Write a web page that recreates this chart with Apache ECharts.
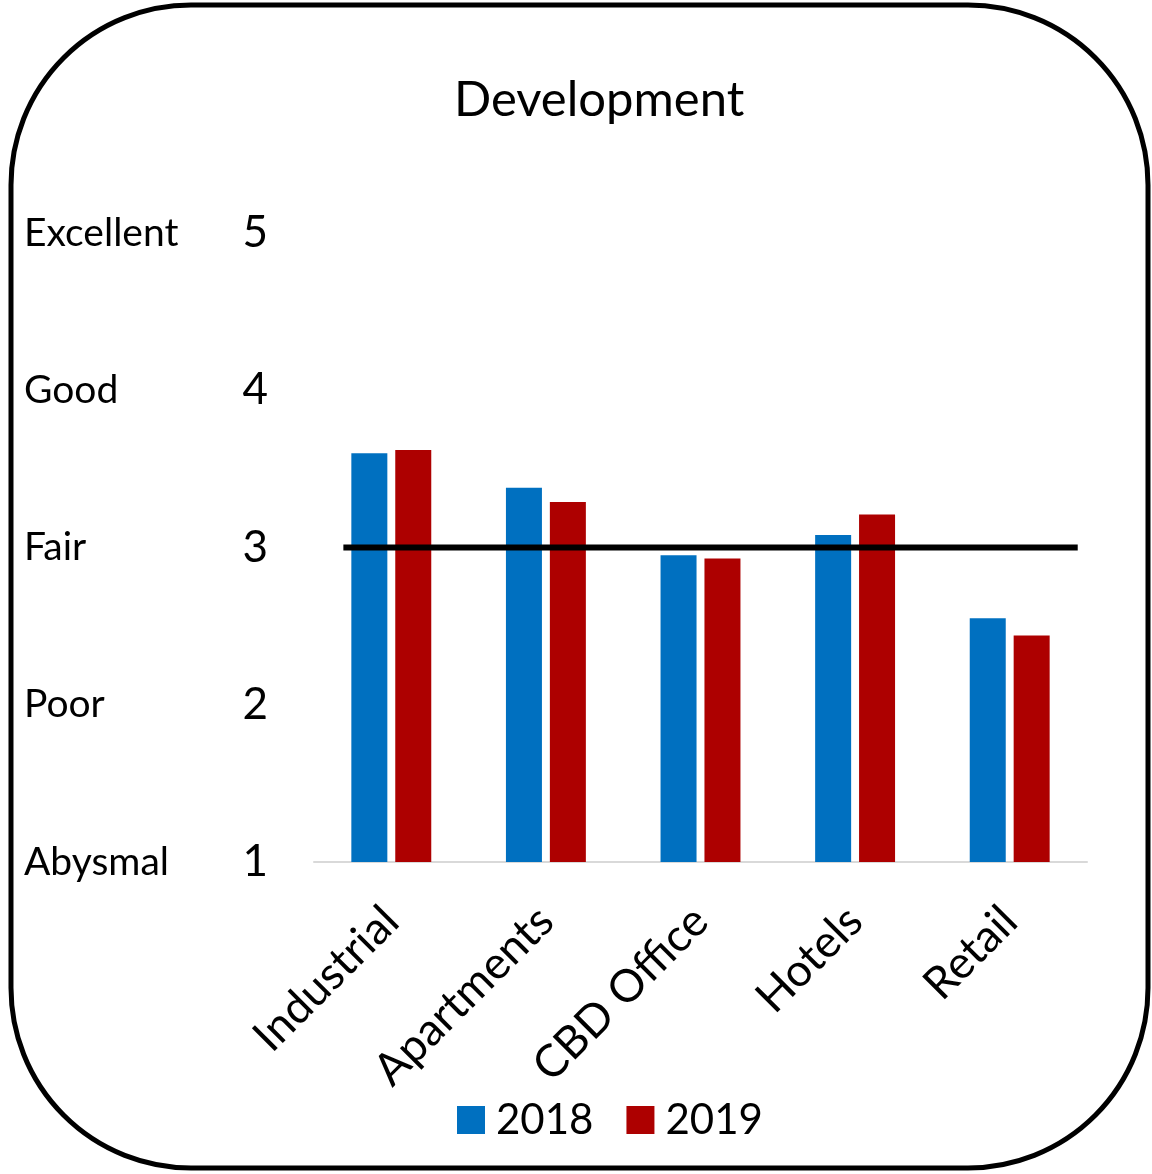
<!DOCTYPE html>
<html>
<head>
<meta charset="utf-8">
<script src="https://cdn.jsdelivr.net/npm/echarts@6/dist/echarts.min.js"></script>
<style>
html,body{margin:0;padding:0;background:#fff;}
#chart{width:1152px;height:1174px;}
</style>
</head>
<body>
<div id="chart"></div>
<script>
const categories = ['Industrial', 'Apartments', 'CBD Office', 'Hotels', 'Retail'];
const values2018 = [3.60, 3.38, 2.95, 3.08, 2.55];
const values2019 = [3.62, 3.29, 2.93, 3.21, 2.44];
const ratingLabels = {1: 'Abysmal', 2: 'Poor', 3: 'Fair', 4: 'Good', 5: 'Excellent'};
const benchmarkValue = 3;
const benchmarkSpan = [0.19, 4.94]; // in category-index units

const FONT = 'Lato';
const chart = echarts.init(document.getElementById('chart'));
chart.setOption({
  animation: false,
  backgroundColor: '#fff',
  textStyle: {fontFamily: FONT, color: '#000'},
  title: {
    text: 'Development', left: 449, top: 71,
    textStyle: {fontFamily: FONT, fontSize: 49, fontWeight: 'normal', color: '#000'}
  },
  graphic: [{
    type: 'rect', silent: true,
    shape: {x: 11, y: 5, width: 1137, height: 1163, r: 180},
    style: {fill: 'none', stroke: '#000', lineWidth: 5}
  }],
  legend: {
    data: ['2018', '2019'], bottom: 28, left: 452,
    itemWidth: 28, itemHeight: 28, itemGap: 33,
    icon: 'rect',
    textStyle: {fontFamily: FONT, fontSize: 42, color: '#000', padding: [0, 0, 0, 6]}
  },
  grid: {left: 314, right: 65, top: 233, bottom: 312, containLabel: false},
  xAxis: [{
    type: 'category', data: categories,
    axisLine: {show: true, lineStyle: {color: '#d9d9d9', width: 2}},
    axisTick: {show: false},
    axisLabel: {rotate: 45, margin: 52, fontSize: 45, fontFamily: FONT, color: '#000', interval: 0}
  }, {
    type: 'value', min: 0, max: 5, show: false
  }],
  yAxis: [{
    type: 'value', min: 1, max: 5, interval: 1,
    axisLine: {show: false}, axisTick: {show: false}, splitLine: {show: false},
    axisLabel: {fontSize: 44, fontFamily: FONT, color: '#000', margin: 46}
  }, {
    type: 'value', min: 1, max: 5, interval: 1, position: 'left',
    axisLine: {show: false}, axisTick: {show: false}, splitLine: {show: false},
    axisLabel: {
      fontSize: 39, fontFamily: FONT, color: '#000', margin: 290, align: 'left',
      formatter: v => ratingLabels[v] || ''
    }
  }],
  series: [{
    name: '2018', type: 'bar', data: values2018, barWidth: 36, barGap: '22%',
    itemStyle: {color: '#0070C0'}
  }, {
    name: '2019', type: 'bar', data: values2019, barWidth: 36, barGap: '22%',
    itemStyle: {color: '#AD0000'}
  }, {
    name: 'benchmark', type: 'line', xAxisIndex: 1, yAxisIndex: 0,
    data: [[benchmarkSpan[0], benchmarkValue], [benchmarkSpan[1], benchmarkValue]],
    symbol: 'none', lineStyle: {color: '#000', width: 6}, z: 5
  }]
});
</script>
</body>
</html>
